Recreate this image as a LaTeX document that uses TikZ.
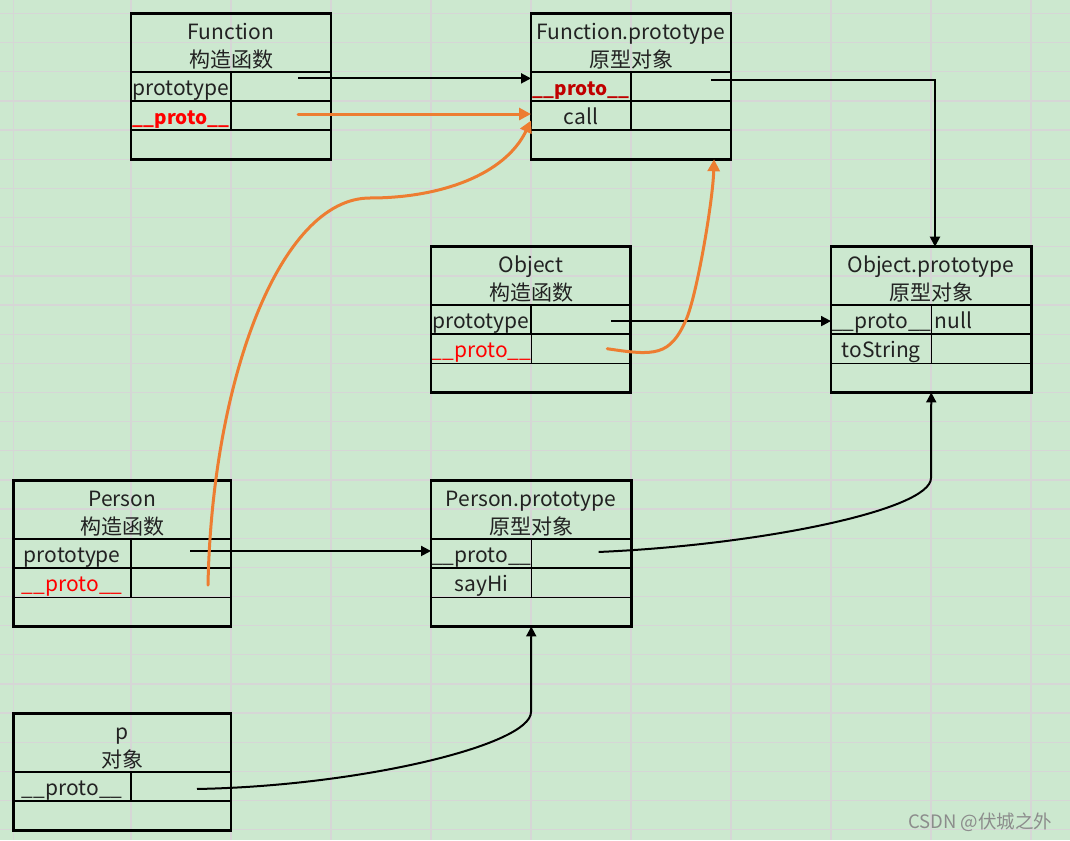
\documentclass[tikz,border=0pt]{standalone}
\usepackage{fontspec}
\setmainfont{Noto Sans CJK SC}
\usepackage{xcolor}
\usepackage{tikz}
\usetikzlibrary{positioning, arrows.meta}

\definecolor{sheetgreen}{HTML}{CCE8CF}
\definecolor{sheetgrid}{HTML}{D6D6D6}
\definecolor{linkorange}{HTML}{ED7D31}
\definecolor{protored}{HTML}{FF0000}
\definecolor{protodark}{HTML}{C00000}
\definecolor{inkgray}{HTML}{222222}

\begin{document}
\begin{tikzpicture}[x=1pt, y=-1pt, >={Triangle[length=10pt,width=10pt]},
    font=\fontsize{21}{28}\selectfont, text=inkgray,
    hdr/.style={draw, line width=1.5pt, outer sep=0pt, inner sep=0pt, align=center,
        minimum width=200pt, minimum height=58.3pt, anchor=north west},
    key/.style={draw, line width=1.5pt, outer sep=0pt, inner sep=0pt,
        minimum width=100pt, minimum height=29.15pt, text height=19pt, text depth=1.5pt},
    boldkey/.style={key, font=\fontsize{19}{28}\selectfont\bfseries},
    rest/.style={key, minimum width=200pt, anchor=north west},
    frame/.style={line width=2.8pt},
    link/.style={line width=2pt, draw=black},
    orangelink/.style={line width=3pt, draw=linkorange, line cap=round,
        >={Triangle[length=12pt,width=12pt]}, color=linkorange}]

        % Sheet
        \useasboundingbox (0,0) rectangle (1070,840);
        \fill[sheetgreen] (0,0) rectangle (1070,840);
        \foreach \x in {13.5,131,231,331,431,531,631,731,831,931,1031}
            \draw[sheetgrid, line width=1.3pt] (\x,0) -- (\x,840);
        \foreach \k in {0,...,28}
            \draw[sheetgrid, line width=1.3pt] (0,{13.5+29.15*\k}) -- (1070,{13.5+29.15*\k});

        % Nodes
        % Function
        \node (fn) [hdr] at (131,13.5) {\rule{0pt}{23pt}Function\\构造函数};
        \node (fn1k) [key, anchor=north west] at (fn.south west) {prototype};
        \node (fn1v) [key, right=0pt of fn1k] {};
        \node (fn2k) [boldkey, below=0pt of fn1k, text=protored] {\_\_proto\_\_};
        \node (fn2v) [key, right=0pt of fn2k] {};
        \node (fn3) [rest] at (fn2k.south west) {};
        \draw[frame] (fn.north west) rectangle (fn3.south east);

        % Function.prototype
        \node (fp) [hdr] at (531,13.5) {\rule{0pt}{23pt}Function.prototype\\原型对象};
        \node (fp1k) [boldkey, anchor=north west, text=protodark] at (fp.south west) {\_\_proto\_\_};
        \node (fp1v) [key, right=0pt of fp1k] {};
        \node (fp2k) [key, below=0pt of fp1k] {call};
        \node (fp2v) [key, right=0pt of fp2k] {};
        \node (fp3) [rest] at (fp2k.south west) {};
        \draw[frame] (fp.north west) rectangle (fp3.south east);

        % Object
        \node (ob) [hdr] at (431,246.7) {\rule{0pt}{23pt}Object\\构造函数};
        \node (ob1k) [key, anchor=north west] at (ob.south west) {prototype};
        \node (ob1v) [key, right=0pt of ob1k] {};
        \node (ob2k) [key, below=0pt of ob1k, text=protored] {\_\_proto\_\_};
        \node (ob2v) [key, right=0pt of ob2k] {};
        \node (ob3) [rest] at (ob2k.south west) {};
        \draw[frame] (ob.north west) rectangle (ob3.south east);

        % Object.prototype
        \node (op) [hdr] at (831,246.7) {\rule{0pt}{23pt}Object.prototype\\原型对象};
        \node (op1k) [key, anchor=north west] at (op.south west) {\_\_proto\_\_};
        \node (op1v) [key, right=0pt of op1k, text width=94pt, inner xsep=3pt, align=left] {null};
        \node (op2k) [key, below=0pt of op1k] {toString};
        \node (op2v) [key, right=0pt of op2k] {};
        \node (op3) [rest] at (op2k.south west) {};
        \draw[frame] (op.north west) rectangle (op3.south east);

        % Person
        \node (pc) [hdr, minimum width=217.5pt] at (13.5,480.7) {\rule{0pt}{23pt}Person\\构造函数};
        \node (pc1k) [key, minimum width=117.5pt, anchor=north west] at (pc.south west) {prototype};
        \node (pc1v) [key, right=0pt of pc1k] {};
        \node (pc2k) [key, minimum width=117.5pt, below=0pt of pc1k, text=protored] {\_\_proto\_\_};
        \node (pc2v) [key, right=0pt of pc2k] {};
        \node (pc3) [rest, minimum width=217.5pt] at (pc2k.south west) {};
        \draw[frame] (pc.north west) rectangle (pc3.south east);

        % Person.prototype
        \node (pp) [hdr] at (431,480.7) {\rule{0pt}{23pt}Person.prototype\\原型对象};
        \node (pp1k) [key, anchor=north west] at (pp.south west) {\_\_proto\_\_};
        \node (pp1v) [key, right=0pt of pp1k] {};
        \node (pp2k) [key, below=0pt of pp1k] {sayHi};
        \node (pp2v) [key, right=0pt of pp2k] {};
        \node (pp3) [rest] at (pp2k.south west) {};
        \draw[frame] (pp.north west) rectangle (pp3.south east);

        % p
        \node (pi) [hdr, minimum width=217.5pt] at (13.5,713.7) {\rule{0pt}{23pt}p\\对象};
        \node (pi1k) [key, minimum width=117.5pt, anchor=north west] at (pi.south west) {\_\_proto\_\_};
        \node (pi1v) [key, right=0pt of pi1k] {};
        \node (pi2) [rest, minimum width=217.5pt] at (pi1k.south west) {};
        \draw[frame] (pi.north west) rectangle (pi2.south east);

        \node (mark) [anchor=east, font=\fontsize{18.5}{20}\selectfont, text=black!45] at (1056,822) {CSDN @伏城之外};

        % Arrows
        \coordinate (fnP) at ([shift={(17,-8)}]fn1v.center);
        \coordinate (fnO) at ([shift={(17,-1.5)}]fn2v.center);
        \coordinate (fpO) at ([shift={(30,-6)}]fp1v.center);
        \coordinate (obP) at ([shift={(30,1.5)}]ob1v.center);
        \coordinate (obO) at ([shift={(26,0)}]ob2v.center);
        \coordinate (pcP) at ([shift={(9,-2.6)}]pc1v.center);
        \coordinate (pcO) at ([shift={(27,2.3)}]pc2v.center);
        \coordinate (ppO) at ([shift={(17,-1.6)}]pp1v.center);
        \coordinate (piO) at ([shift={(16,2.4)}]pi1v.center);

        \draw[link, ->] (fnP) -- (fnP -| fp.west);
        \draw[orangelink, ->] (fnO) -- (fnO -| fp.west);
        \draw[link, ->] (fpO) -| ([xshift=4pt]op.north);
        \draw[link, ->] (obP) -- (obP -| op.west);
        \draw[orangelink, ->] (obO) .. controls (655,356) and (670,356) .. (686,320)
            .. controls (697,295) and (713,200) .. ([xshift=83pt]fp3.south);
        \draw[link, ->] (pcP) -- (pcP -| pp.west);
        \draw[orangelink, ->] (pcO) .. controls (212,380) and (280,198) .. (370,198)
            .. controls (440,198) and (505,175) .. ([shift={(0,5)}]fp2k.west);
        \draw[link, ->] (ppO) .. controls (760,545) and (931,510) .. (931,478) -- (op3.south);
        \draw[link, ->] (piO) .. controls (360,786) and (531,745) .. (531,712) -- (pp3.south);

    \end{tikzpicture}
\end{document}
